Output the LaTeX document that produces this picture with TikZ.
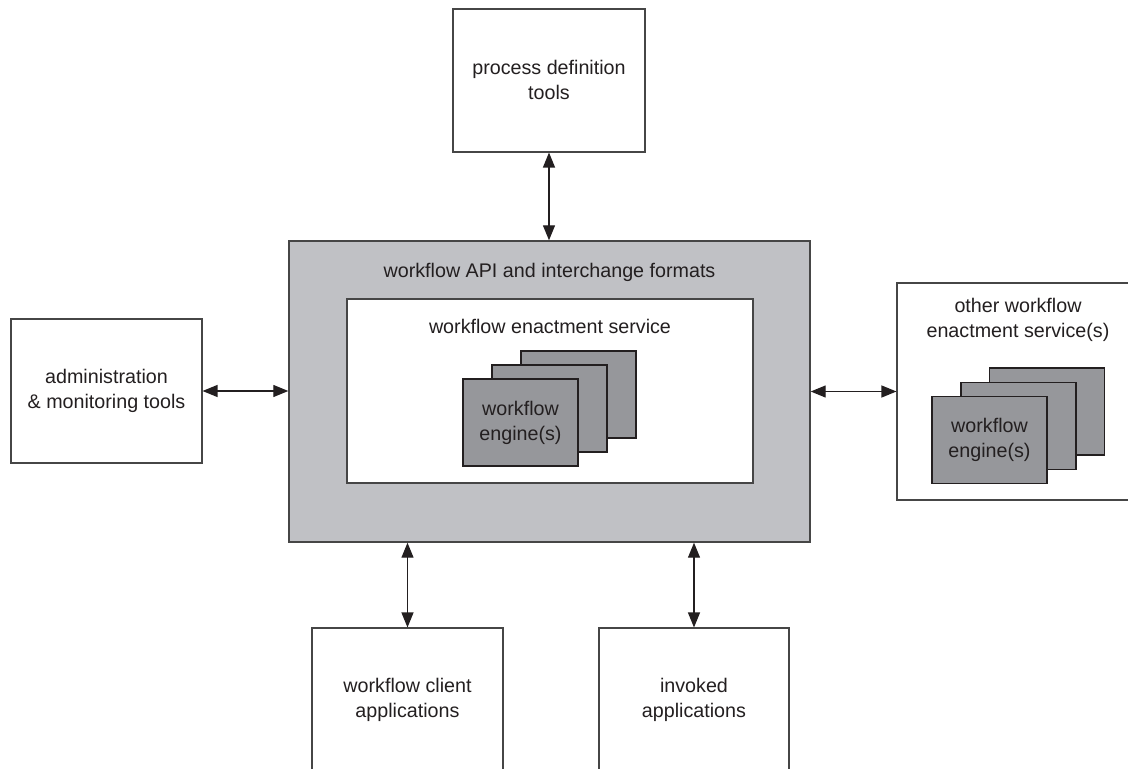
\documentclass[tikz,border=0pt]{standalone}
\usepackage{fontspec}
\setmainfont{Liberation Sans}
\usetikzlibrary{arrows.meta}
\definecolor{apigray}{RGB}{192,193,197}
\definecolor{enggray}{RGB}{150,151,155}
\definecolor{edgegray}{RGB}{70,70,70}
\definecolor{txtgray}{RGB}{35,31,32}
\begin{document}
\begin{tikzpicture}[x=1bp,y=-1bp,
  box/.style={draw=edgegray, line width=1.1bp, fill=white, inner sep=0pt},
  apibox/.style={box, fill=apigray, line width=1.4bp},
  engbox/.style={draw=txtgray, line width=1.1bp, fill=enggray, inner sep=0pt, minimum width=115bp, minimum height=87bp},
  lbl/.style={inner sep=0pt, align=center, text=txtgray, font=\fontsize{19.7bp}{25bp}\selectfont},
  biarrow/.style={{Triangle[length=15bp,width=12bp]}-{Triangle[length=15bp,width=12bp]}, line width=1.2bp, draw=txtgray, fill=txtgray}
]
\clip (0,0) rectangle (1128,769);
\fill[white] (0,0) rectangle (1128,769);

% outer boxes
\node[box, minimum width=192bp, minimum height=143bp] (pdt) at (549,80.5) {};
\node[box, minimum width=191bp, minimum height=144bp] (adm) at (106.5,391) {};
\node[apibox, minimum width=521bp, minimum height=301bp] (api) at (549.5,391.5) {};
\node[box, minimum width=406bp, minimum height=184bp] (wes) at (550,391) {};
\node[box, minimum width=260bp, minimum height=217bp] (other) at (1027,391.5) {};
\node[box, minimum width=191bp, minimum height=170bp] (wca) at (407.5,713) {};
\node[box, minimum width=190bp, minimum height=170bp] (inv) at (694,713) {};

% engines inside enactment service
\node[engbox] (e3) at (578.5,394.5) {};
\node[engbox] (e2) at (549.5,408.5) {};
\node[engbox] (e1) at (520.5,422.5) {};
% engines inside other service
\node[engbox] (o3) at (1047,411.5) {};
\node[engbox] (o2) at (1018.5,426) {};
\node[engbox] (o1) at (989.5,440) {};

% labels
\node[lbl] (pdtl) at (549,80) {process definition\\tools};
\node[lbl] (adml) at (106.5,391) {administration\\\& monitoring tools};
\node[lbl] (apil) at (549.5,272) {workflow API and interchange formats};
\node[lbl] (wesl) at (550,326) {workflow enactment service};
\node[lbl] (e1l) at (e1.center) {workflow\\engine(s)};
\node[lbl] (otherl) at (1018,320) {other workflow\\enactment service(s)};
\node[lbl] (o1l) at (o1.center) {workflow\\engine(s)};
\node[lbl] (wcal) at (407.5,700) {workflow client\\applications};
\node[lbl] (invl) at (694,700) {invoked\\applications};

% connectors
\draw[biarrow] (pdt.south) -- (pdt.south |- api.north);
\draw[biarrow] (adm.east) -- (adm.east -| api.west);
\draw[biarrow] (api.east |- other.west) -- (other.west);
\draw[biarrow] (wca.north |- api.south) -- (wca.north);
\draw[biarrow] (inv.north |- api.south) -- (inv.north);
\end{tikzpicture}
\end{document}
